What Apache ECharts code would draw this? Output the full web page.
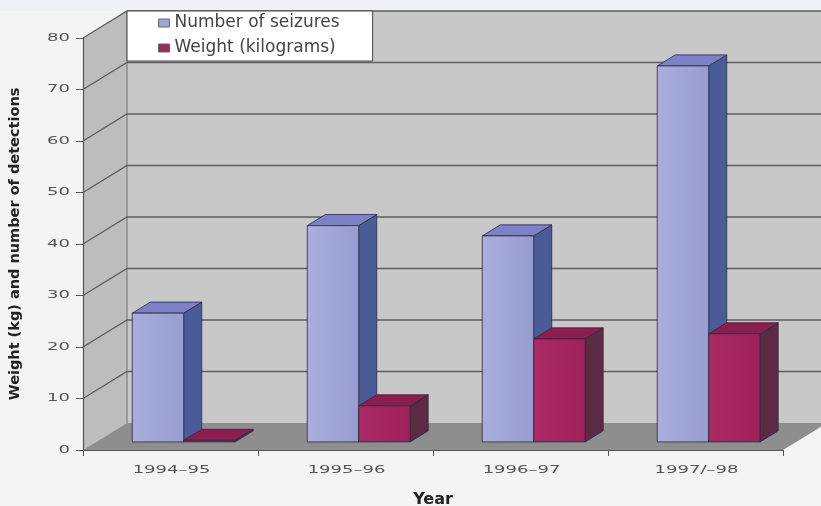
<!DOCTYPE html>
<html>
<head>
<meta charset="utf-8">
<script src="https://cdn.jsdelivr.net/npm/echarts@6/dist/echarts.min.js"></script>
<style>
  html, body { margin: 0; padding: 0; background: #f4f4f5; }
  #chart { width: 821px; height: 506px; }
</style>
</head>
<body>
<div id="chart"></div>
<script>
const categories = ['1994–95', '1995–96', '1996–97', '1997/–98'];
const seizures = [25, 42, 40, 73];
const weightKg = [0.3, 7, 20, 21];
const yTicks = [0, 10, 20, 30, 40, 50, 60, 70, 80];

// Oblique 3-D look: how far the floor recedes (px), where the bars sit in it
const DEPTH = [44, -27];
const BAR_FRONT = 0.3;
const BAR_DEPTH = 0.41;
const BAR_SHARE = 0.294;
const LABEL_FONT = '10px "DejaVu Sans"';
const LABEL_STRETCH = 1.8;

function shift(p, k) {
  return [p[0] + DEPTH[0] * k, p[1] + DEPTH[1] * k];
}

// Side wall, back wall, floor and the receding gridlines
function renderWalls(params, api) {
  const cs = params.coordSys;
  const x0 = cs.x, x1 = cs.x + cs.width;
  const yTop = api.coord([0, yTicks[yTicks.length - 1]])[1];
  const yBot = api.coord([0, 0])[1];
  const dx = DEPTH[0], dy = DEPTH[1];
  const children = [
    { type: 'polygon', shape: { points: [[x0, yTop], [x0 + dx, yTop + dy], [x0 + dx, yBot + dy], [x0, yBot]] },
      style: { fill: '#bdbdbd' } },
    { type: 'rect', shape: { x: x0 + dx, y: yTop + dy, width: x1 - x0, height: yBot - yTop },
      style: { fill: '#c8c8c8' } },
    { type: 'polygon', shape: { points: [[x0, yBot], [x1, yBot], [x1 + dx, yBot + dy], [x0 + dx, yBot + dy]] },
      style: { fill: '#8e8e8e' } },
    { type: 'line', shape: { x1: x0 + dx, y1: yTop + dy, x2: x0 + dx, y2: yBot + dy },
      style: { stroke: '#8c8c8c', lineWidth: 1.5 } }
  ];
  yTicks.forEach(function (v) {
    if (v === 0) return;
    const y = api.coord([0, v])[1];
    children.push({ type: 'polyline',
      shape: { points: [[x0, y], [x0 + dx, y + dy], [x1 + dx, y + dy]] },
      style: { stroke: '#5e5e5e', lineWidth: 1.3, fill: null } });
  });
  return { type: 'group', children: children };
}

function barRenderer(slot, front, top, side) {
  return function (params, api) {
    const i = api.value(0), v = api.value(1);
    const base = api.coord([i, 0]);
    const peak = api.coord([i, v]);
    const w = api.size([1, 0])[0] * BAR_SHARE;
    const left = slot === 0 ? base[0] - w : base[0];
    const right = left + w;
    const f = BAR_FRONT, b = BAR_FRONT + BAR_DEPTH;
    const FTL = shift([left, peak[1]], f), FTR = shift([right, peak[1]], f);
    const FBL = shift([left, base[1]], f), FBR = shift([right, base[1]], f);
    const BTL = shift([left, peak[1]], b), BTR = shift([right, peak[1]], b);
    const BBR = shift([right, base[1]], b);
    const edge = { stroke: '#2a2a40', lineWidth: 0.8, lineJoin: 'round' };
    return {
      type: 'group',
      children: [
        { type: 'polygon', shape: { points: [FTR, BTR, BBR, FBR] }, style: Object.assign({ fill: side }, edge) },
        { type: 'polygon', shape: { points: [FTL, FTR, BTR, BTL] }, style: Object.assign({ fill: top }, edge) },
        { type: 'polygon', shape: { points: [FTL, FTR, FBR, FBL] }, style: Object.assign({ fill: front }, edge) }
      ]
    };
  };
}

function renderYLabel(params, api) {
  const p = api.coord([0, api.value(1)]);
  return { type: 'text', x: params.coordSys.x - 13, y: p[1], scaleX: LABEL_STRETCH,
    style: { text: String(api.value(1)), font: LABEL_FONT, fill: '#555', align: 'right', verticalAlign: 'middle' } };
}

function renderXLabel(params, api) {
  const p = api.coord([api.value(0), 0]);
  return { type: 'text', x: p[0] + 1, y: p[1] + 20, scaleX: LABEL_STRETCH,
    style: { text: categories[params.dataIndex], font: LABEL_FONT, fill: '#555', align: 'center', verticalAlign: 'middle' } };
}

const blueFront = { type: 'linear', x: 0, y: 0, x2: 1, y2: 0,
  colorStops: [{ offset: 0, color: '#a9aedd' }, { offset: 1, color: '#979dd0' }] };
const redFront = { type: 'linear', x: 0, y: 0, x2: 1, y2: 0,
  colorStops: [{ offset: 0, color: '#ab2a63' }, { offset: 1, color: '#9e2159' }] };

const chart = echarts.init(document.getElementById('chart'));
chart.setOption({
  animation: false,
  backgroundColor: '#f4f4f5',
  graphic: [{ type: 'rect', shape: { x: 0, y: 0, width: 821, height: 11 }, style: { fill: '#eff1f6' }, z: -10 }],
  grid: { left: 83, right: 38, top: 38, bottom: 56, outerBoundsMode: 'none', containLabel: false },
  legend: {
    data: ['Number of seizures', 'Weight (kilograms)'],
    orient: 'vertical', left: 127, top: 11,
    padding: [3, 33, 4, 31], itemGap: 7,
    itemWidth: 11, itemHeight: 8, icon: 'rect',
    backgroundColor: '#ffffff', borderColor: '#444', borderWidth: 1, borderRadius: 0,
    selectedMode: false,
    itemStyle: { borderColor: '#666', borderWidth: 1 },
    textStyle: { fontFamily: 'DejaVu Sans', fontSize: 17, lineHeight: 18, color: '#444' }
  },
  xAxis: {
    type: 'category', data: categories,
    axisLine: { lineStyle: { color: '#555', width: 1.2 } },
    axisTick: { show: true, length: 6, lineStyle: { color: '#555' } },
    axisLabel: { show: false },
    name: 'Year', nameLocation: 'middle', nameGap: 42,
    nameTextStyle: { fontFamily: 'DejaVu Sans', fontWeight: 'bold', fontSize: 16, color: '#222' }
  },
  yAxis: {
    type: 'value', min: 0, max: 80, interval: 10,
    axisLine: { show: true, lineStyle: { color: '#555', width: 1.2 } },
    axisTick: { show: true, length: 7, lineStyle: { color: '#555' } },
    axisLabel: { show: false },
    splitLine: { show: false },
    name: 'Weight (kg) and number of detections', nameLocation: 'middle', nameRotate: 90, nameGap: 60,
    nameTextStyle: { fontFamily: 'DejaVu Sans', fontWeight: 'bold', fontSize: 14.5, color: '#222' }
  },
  series: [
    { type: 'custom', name: 'walls', z: -1, silent: true, clip: false,
      renderItem: renderWalls, data: [[0, 0]] },
    { type: 'custom', name: 'Number of seizures', clip: false, itemStyle: { color: '#a0a5d6' },
      renderItem: barRenderer(0, blueFront, '#7d81c6', '#4a5c98'),
      data: seizures.map(function (v, i) { return [i, v]; }) },
    { type: 'custom', name: 'Weight (kilograms)', clip: false, itemStyle: { color: '#a5265f' },
      renderItem: barRenderer(1, redFront, '#8b1e4f', '#5c2a43'),
      data: weightKg.map(function (v, i) { return [i, v]; }) },
    { type: 'custom', name: 'yLabels', silent: true, clip: false, z: 3,
      renderItem: renderYLabel, data: yTicks.map(function (v) { return [0, v]; }) },
    { type: 'custom', name: 'xLabels', silent: true, clip: false, z: 3,
      renderItem: renderXLabel, data: categories.map(function (c, i) { return [i, 0]; }) }
  ]
});
</script>
</body>
</html>
